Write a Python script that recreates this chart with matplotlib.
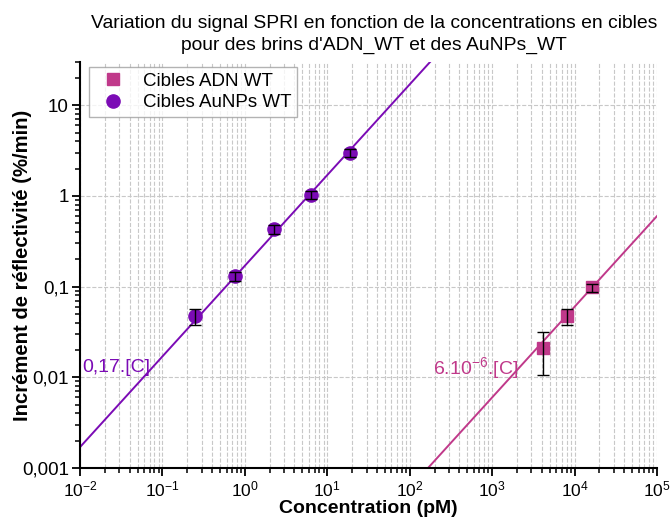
import numpy as np
import matplotlib
matplotlib.use("Agg")
import matplotlib.pyplot as plt
from matplotlib.ticker import LogLocator, FixedLocator, FixedFormatter, NullFormatter

plt.rcParams['font.family'] = ['Liberation Sans', 'DejaVu Sans']
plt.rcParams['mathtext.fontset'] = 'custom'
plt.rcParams['mathtext.rm'] = 'Liberation Sans'
plt.rcParams['mathtext.it'] = 'Liberation Sans:italic'
plt.rcParams['mathtext.bf'] = 'Liberation Sans:bold'

# -------------------------
# data
# -------------------------
adn_conc = [4100, 8200, 16500]
adn_signal = [0.021, 0.047, 0.098]
adn_err = [0.0105, 0.0095, 0.010]

aunp_conc = [0.25, 0.75, 2.25, 6.3, 18.9]
aunp_signal = [0.047, 0.130, 0.43, 1.03, 2.98]
aunp_err = [0.0095, 0.014, 0.045, 0.11, 0.32]

# fitted lines  y = k.[C]
k_aunp = 0.17
k_adn = 6e-6

y_ticks = [0.001, 0.01, 0.1, 1, 10]
y_labels = ["0,001", "0,01", "0,1", "1", "10"]
x_ticks = [1e-2, 1e-1, 1e0, 1e1, 1e2, 1e3, 1e4, 1e5]
x_labels = ["$10^{-2}$", "$10^{-1}$", "$10^{0}$", "$10^{1}$",
            "$10^{2}$", "$10^{3}$", "$10^{4}$", "$10^{5}$"]

pink = "#C0398A"
purple = "#7B0BB5"

fig = plt.figure(figsize=(6.7, 5.21), dpi=100)
ax = fig.add_axes([0.1194, 0.1017, 0.8612, 0.7793])

ax.set_xscale("log")
ax.set_yscale("log")
ax.set_xlim(1e-2, 1e5)
ax.set_ylim(1e-3, 30)

# fit lines over the full x range
xx = np.logspace(-2, 5, 200)
ax.plot(xx, k_aunp * xx, color=purple, lw=1.4, zorder=2)
ax.plot(xx, k_adn * xx, color=pink, lw=1.4, zorder=2)

# points
ax.plot(adn_conc, adn_signal, ls="none", marker="s", ms=8.5,
        color=pink, label="Cibles ADN WT", zorder=3)
ax.plot(aunp_conc, aunp_signal, ls="none", marker="o", ms=9.5,
        color=purple, label="Cibles AuNPs WT", zorder=3)
ax.errorbar(adn_conc, adn_signal, yerr=adn_err, fmt="none", ecolor="black",
            elinewidth=1, capsize=4.5, capthick=1, zorder=4)
ax.errorbar(aunp_conc, aunp_signal, yerr=aunp_err, fmt="none", ecolor="black",
            elinewidth=1, capsize=4.5, capthick=1, zorder=4)

# annotations
ax.text(0.0106, 0.0129, "0,17.[C]", color=purple, fontsize=14,
        ha="left", va="center")
ax.text(190, 0.0127, "6.10$^{-6}$.[C]", color=pink, fontsize=14,
        ha="left", va="center")

# ticks and grid
ax.xaxis.set_major_locator(FixedLocator(x_ticks))
ax.xaxis.set_major_formatter(FixedFormatter(x_labels))
ax.xaxis.set_minor_locator(LogLocator(base=10, subs=np.arange(2, 10), numticks=20))
ax.xaxis.set_minor_formatter(NullFormatter())
ax.yaxis.set_major_locator(FixedLocator(y_ticks))
ax.yaxis.set_major_formatter(FixedFormatter(y_labels))
ax.yaxis.set_minor_locator(LogLocator(base=10, subs=np.arange(2, 10), numticks=20))
ax.yaxis.set_minor_formatter(NullFormatter())

ax.tick_params(which="major", direction="out", length=6, width=1.3, pad=2)
ax.tick_params(axis="y", labelsize=13.5)
ax.tick_params(axis="x", labelsize=12.5)
ax.tick_params(which="minor", direction="out", length=3.5, width=1.1)

ax.grid(True, axis="x", which="both", ls="--", lw=0.8, color="#c8c8c8")
ax.grid(True, axis="y", which="major", ls="--", lw=0.8, color="#c8c8c8")
ax.set_axisbelow(True)

ax.spines["top"].set_visible(False)
ax.spines["right"].set_visible(False)
ax.spines["left"].set_linewidth(1.5)
ax.spines["bottom"].set_linewidth(1.5)

ax.set_xlabel("Concentration (pM)", fontsize=14, fontweight="bold")
ax.xaxis.set_label_coords(0.5, -0.078)
ax.set_ylabel("Incrément de réflectivité (%/min)", fontsize=14.6,
              fontweight="bold")
ax.yaxis.set_label_coords(-0.083, 0.5)
ax.set_title("Variation du signal SPRI en fonction de la concentrations en cibles\n"
             "pour des brins d'ADN_WT et des AuNPs_WT", fontsize=13.9,
             linespacing=1.35, pad=9, x=0.51)

leg = ax.legend(loc="upper left", bbox_to_anchor=(0.015, 0.988), fontsize=13.5,
                frameon=True, fancybox=False, edgecolor="#a0a0a0",
                handletextpad=0.6, borderpad=0.3, labelspacing=0.25,
                handlelength=2.0, borderaxespad=0)
leg.get_frame().set_linewidth(1.0)

fig.savefig("out.png", dpi=100)
